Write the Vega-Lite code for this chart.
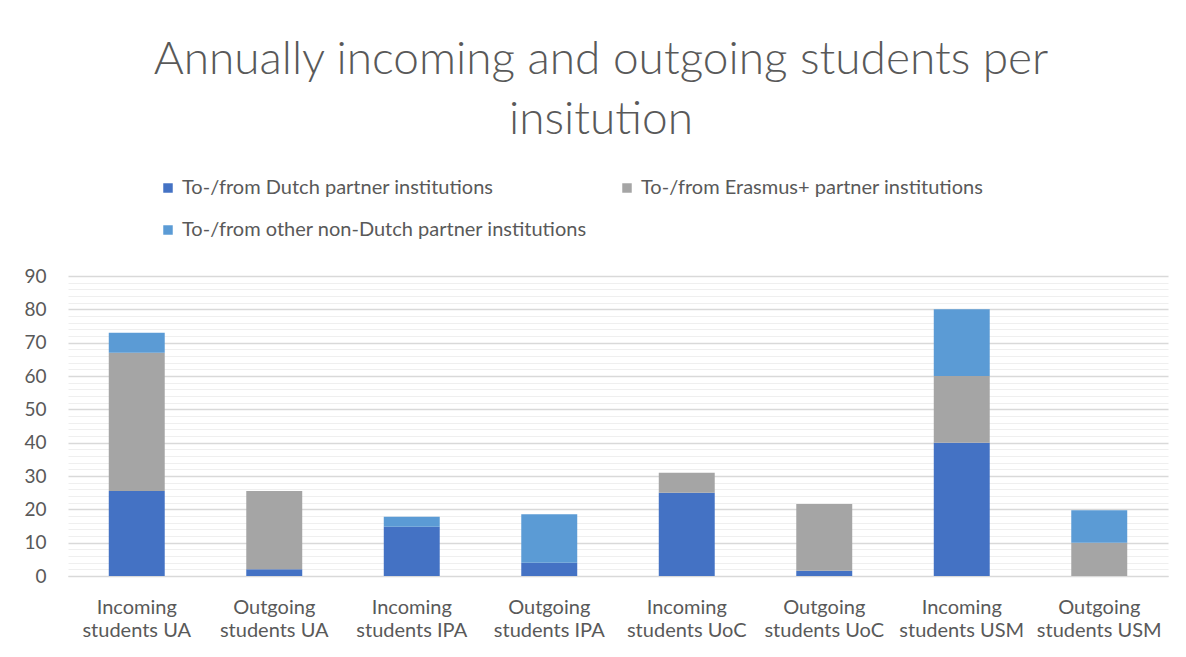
{
  "$schema": "https://vega.github.io/schema/vega-lite/v6.json",
  "width": 1100,
  "height": 300,
  "autosize": {"type": "none"},
  "padding": {"left": 68, "top": 276, "right": 18, "bottom": 81},
  "background": "white",
  "title": {
    "text": ["Annually incoming and outgoing students per", "insitution"],
    "anchor": "middle",
    "font": "Lato",
    "fontWeight": 300,
    "fontSize": 46,
    "color": "#595959",
    "lineHeight": 60,
    "offset": 34,
    "dx": -17
  },
  "data": {
    "values": [
      {"group": "Incoming students UA", "series": "To-/from Dutch partner institutions", "value": 25.5},
      {"group": "Incoming students UA", "series": "To-/from Erasmus+ partner institutions", "value": 41.5},
      {"group": "Incoming students UA", "series": "To-/from other non-Dutch partner institutions", "value": 6},
      {"group": "Outgoing students UA", "series": "To-/from Dutch partner institutions", "value": 2},
      {"group": "Outgoing students UA", "series": "To-/from Erasmus+ partner institutions", "value": 23.5},
      {"group": "Outgoing students UA", "series": "To-/from other non-Dutch partner institutions", "value": 0},
      {"group": "Incoming students IPA", "series": "To-/from Dutch partner institutions", "value": 14.8},
      {"group": "Incoming students IPA", "series": "To-/from Erasmus+ partner institutions", "value": 0},
      {"group": "Incoming students IPA", "series": "To-/from other non-Dutch partner institutions", "value": 3},
      {"group": "Outgoing students IPA", "series": "To-/from Dutch partner institutions", "value": 4},
      {"group": "Outgoing students IPA", "series": "To-/from Erasmus+ partner institutions", "value": 0},
      {"group": "Outgoing students IPA", "series": "To-/from other non-Dutch partner institutions", "value": 14.5},
      {"group": "Incoming students UoC", "series": "To-/from Dutch partner institutions", "value": 25},
      {"group": "Incoming students UoC", "series": "To-/from Erasmus+ partner institutions", "value": 6},
      {"group": "Incoming students UoC", "series": "To-/from other non-Dutch partner institutions", "value": 0},
      {"group": "Outgoing students UoC", "series": "To-/from Dutch partner institutions", "value": 1.6},
      {"group": "Outgoing students UoC", "series": "To-/from Erasmus+ partner institutions", "value": 20},
      {"group": "Outgoing students UoC", "series": "To-/from other non-Dutch partner institutions", "value": 0},
      {"group": "Incoming students USM", "series": "To-/from Dutch partner institutions", "value": 40},
      {"group": "Incoming students USM", "series": "To-/from Erasmus+ partner institutions", "value": 20},
      {"group": "Incoming students USM", "series": "To-/from other non-Dutch partner institutions", "value": 20},
      {"group": "Outgoing students USM", "series": "To-/from Dutch partner institutions", "value": 0},
      {"group": "Outgoing students USM", "series": "To-/from Erasmus+ partner institutions", "value": 10},
      {"group": "Outgoing students USM", "series": "To-/from other non-Dutch partner institutions", "value": 9.7}
    ]
  },
  "mark": {"type": "bar"},
  "encoding": {
    "x": {
      "field": "group",
      "type": "nominal",
      "sort": null,
      "scale": {"paddingInner": 0.593, "paddingOuter": 0.2965},
      "axis": {
        "title": null,
        "labelAngle": 0,
        "labelFont": "Lato",
        "labelFontSize": 20,
        "labelColor": "#595959",
        "labelPadding": 21,
        "labelLineHeight": 23,
        "labelExpr": "[split(datum.label, ' ')[0], slice(datum.label, indexof(datum.label, ' ') + 1)]",
        "ticks": false,
        "domain": true,
        "domainColor": "#d9d9d9",
        "domainWidth": 1,
        "grid": false
      }
    },
    "y": {
      "field": "value",
      "type": "quantitative",
      "aggregate": "sum",
      "stack": "zero",
      "scale": {"domain": [0, 90], "nice": false},
      "axis": {
        "title": null,
        "values": [0,2,4,6,8,10,12,14,16,18,20,22,24,26,28,30,32,34,36,38,40,42,44,46,48,50,52,54,56,58,60,62,64,66,68,70,72,74,76,78,80,82,84,86,88,90],
        "labelExpr": "datum.value % 10 === 0 ? datum.label : ''",
        "labelFont": "Lato",
        "labelFontSize": 19,
        "labelColor": "#595959",
        "labelPadding": 22,
        "ticks": false,
        "domain": false,
        "grid": true,
        "gridColor": {"condition": {"test": "datum.value % 10 === 0", "value": "#d9d9d9"}, "value": "#efefef"},
        "gridWidth": {"condition": {"test": "datum.value % 10 === 0", "value": 1.3}, "value": 1}
      }
    },
    "color": {
      "field": "series",
      "type": "nominal",
      "scale": {
        "domain": ["To-/from Dutch partner institutions", "To-/from Erasmus+ partner institutions", "To-/from other non-Dutch partner institutions"],
        "range": ["#4472C4", "#A5A5A5", "#5B9BD5"]
      },
      "legend": {
        "title": null,
        "orient": "none",
        "legendX": 90,
        "legendY": -98,
        "direction": "horizontal",
        "columns": 2,
        "columnPadding": 30,
        "rowPadding": 22,
        "symbolType": "square",
        "symbolSize": 90,
        "symbolStrokeWidth": 0,
        "labelFont": "Lato",
        "labelFontSize": 20,
        "labelColor": "#595959",
        "labelOffset": 4,
        "labelLimit": 600
      }
    },
    "order": {"field": "series", "sort": "ascending"}
  },
  "config": {
    "view": {"stroke": null}
  }
}
